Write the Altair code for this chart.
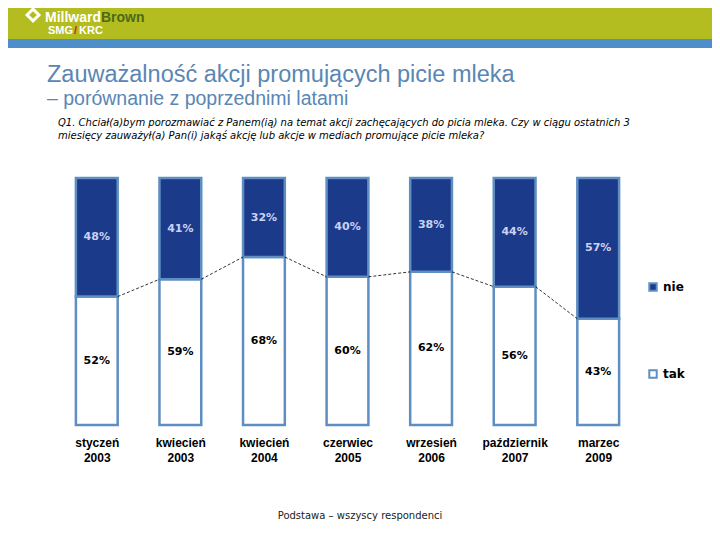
import json
import altair as alt
import pandas as pd

# ---- data ----
period_month = ["styczeń", "kwiecień", "kwiecień", "czerwiec", "wrzesień", "październik", "marzec"]
period_year = ["2003", "2003", "2004", "2005", "2006", "2007", "2009"]
tak = [52, 59, 68, 60, 62, 56, 43]
nie = [48, 41, 32, 40, 38, 44, 57]
series = ["nie", "tak"]

rows = []
for i, (t, n) in enumerate(zip(tak, nie)):
    rows.append(dict(i=i, series="tak", value=t, ord=0))
    rows.append(dict(i=i, series="nie", value=n, ord=1))
df = pd.DataFrame(rows)
conn = pd.DataFrame({"i": list(range(len(tak) - 1)), "a": tak[:-1], "b": tak[1:]})
one = pd.DataFrame({"d": [0]})

labels_js = json.dumps([[m, y] for m, y in zip(period_month, period_year)], ensure_ascii=False)

DARK = "#1b3a8a"
EDGE = "#5f8fc2"
HW = 0.25

xs = alt.Scale(domain=[-0.5, 6.5], nice=False, zero=False)
ys = alt.Scale(domain=[0, 100], nice=False, zero=True)

base = alt.Chart(df).transform_stack(
    stack="value", groupby=["i"], as_=["v0", "v1"], sort=[alt.SortField("ord")]
).transform_calculate(
    x0=f"datum.i-{HW}", x1=f"datum.i+{HW}", mid="(datum.v0+datum.v1)/2",
    lbl="datum.value + '%'"
)

bars = base.mark_bar(stroke=EDGE, strokeWidth=2.5).encode(
    x=alt.X("x0:Q", scale=xs, axis=alt.Axis(
        values=list(range(7)), labelExpr=f"{labels_js}[datum.value]",
        title=None, domain=False, ticks=False, grid=False,
        labelFont="Liberation Sans", labelFontWeight="bold", labelFontSize=12,
        labelColor="black", labelPadding=12, labelLineHeight=15)),
    x2="x1:Q",
    y=alt.Y("v0:Q", scale=ys, axis=None),
    y2="v1:Q",
    color=alt.Color("series:N", scale=alt.Scale(domain=series, range=[DARK, "#ffffff"]),
                    legend=alt.Legend(orient="none", legendX=592, legendY=103, title=None,
                                      direction="vertical", symbolType="square", symbolSize=55,
                                      symbolStrokeColor=EDGE, symbolStrokeWidth=2,
                                      labelFont="DejaVu Sans", labelFontWeight="bold",
                                      labelFontSize=12, labelColor="black",
                                      rowPadding=71, padding=0)),
)

texts = base.mark_text(font="DejaVu Sans", fontWeight="bold", fontSize=11).encode(
    x=alt.X("i:Q", scale=xs),
    y=alt.Y("mid:Q", scale=ys),
    text="lbl:N",
    color=alt.condition(alt.datum.series == "nie", alt.value("#c9d2f4"), alt.value("black")),
)

rules = alt.Chart(conn).transform_calculate(
    xa=f"datum.i+{HW}", xb=f"datum.i+1-{HW}"
).mark_rule(color="black", strokeWidth=0.8, strokeDash=[3, 2]).encode(
    x=alt.X("xa:Q", scale=xs), x2="xb:Q",
    y=alt.Y("a:Q", scale=ys), y2="b:Q",
)

# ---- header / titles ----
oc = alt.Chart(one)
green = oc.mark_rect(color="#b3bd1f").encode(
    x=alt.value(-60), x2=alt.value(670), y=alt.value(-175), y2=alt.value(-139))
blue = oc.mark_rect(color="#4e8fcb").encode(
    x=alt.value(-60), x2=alt.value(670), y=alt.value(-139), y2=alt.value(-130))
icon1 = oc.mark_point(shape="diamond", filled=True, color="white", size=260, opacity=1).encode(
    x=alt.value(-22), y=alt.value(-163))
icon2 = oc.mark_point(shape="diamond", filled=True, color="#b3bd1f", size=60, opacity=1).encode(
    x=alt.value(-22), y=alt.value(-163))

def txt(s, x, y, size, color="black", weight="normal", font="Liberation Sans",
        style="normal", align="left"):
    return oc.mark_text(text=s, align=align, baseline="alphabetic", fontSize=size,
                        color=color, fontWeight=weight, font=font, fontStyle=style).encode(
        x=alt.value(x), y=alt.value(y))

logo = [
    txt("Millward", -10, -156, 14, "white", "bold"),
    txt("Brown", 46, -156, 14, "#4d6a17", "bold"),
    txt("SMG", -7, -144, 11, "white", "bold"),
    txt("/", 19, -144, 11, "#d0202a", "bold"),
    txt("KRC", 24, -144, 11, "white", "bold"),
]

title1 = txt("Zauważalność akcji promujących picie mleka", -8, -96, 23.5, "#5a86b4")
title2 = txt("– porównanie z poprzednimi latami", -8, -73, 19.5, "#5a86b4")
q1 = txt("Q1. Chciał(a)bym porozmawiać z Panem(ią) na temat akcji zachęcających do picia mleka. "
         "Czy w ciągu ostatnich 3", 3, -52, 10, "black", font="DejaVu Sans", style="italic")
q2 = txt("miesięcy zauważył(a) Pan(i) jakąś akcję lub akcje w mediach promujące picie mleka?",
         3, -39, 10, "black", font="DejaVu Sans", style="italic")
footer = txt("Podstawa – wszyscy respondenci", 305, 341, 10, "#222222", font="DejaVu Sans",
             align="center")

chart = alt.layer(
    green, blue, icon1, icon2, *logo, title1, title2, q1, q2, footer,
    bars, rules, texts
).properties(
    width=585, height=247,
    padding={"left": 47, "top": 170, "right": 72, "bottom": 107},
    autosize=alt.AutoSizeParams(type="none"),
).configure_view(stroke=None)

chart.save("out.html", embed_options={"renderer": "svg", "actions": False})
